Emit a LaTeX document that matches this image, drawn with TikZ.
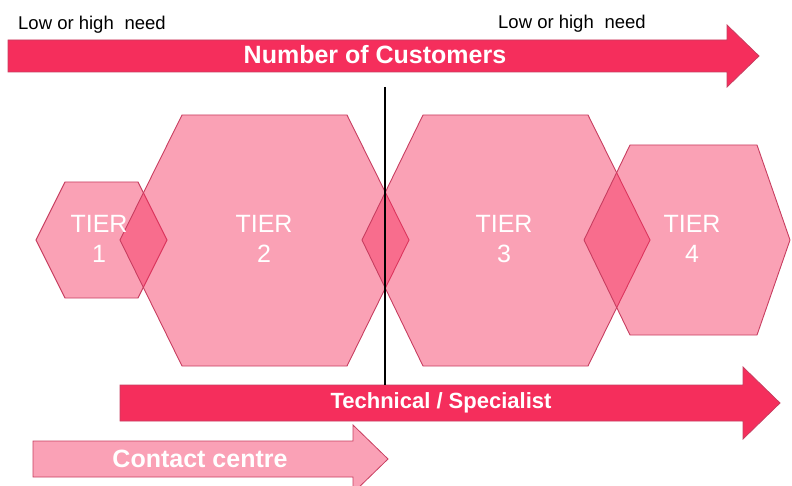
\documentclass[tikz,border=0pt]{standalone}
\usepackage{fontspec}
\setmainfont{Liberation Sans}

\definecolor{crimson}{HTML}{F52E5C}
\definecolor{edge}{HTML}{C73E60}

% hexagon: left x, right x, top-left x, top-right x, top y, bottom y
\newcommand{\tierhex}[6]{%
  \draw[hex] (#1,240) -- (#3,#5) -- (#4,#5) -- (#2,240) -- (#4,#6) -- (#3,#6) -- cycle;}

\begin{document}
\begin{tikzpicture}[x=1pt,y=-1pt,
    hex/.style={draw=edge, line width=0.9pt, fill=crimson, fill opacity=0.45},
    bar/.style={draw=edge, line width=0.8pt, fill=crimson},
    softbar/.style={draw=edge, line width=0.8pt, fill=crimson!45},
    tier/.style={text=white, align=center, font=\fontsize{25}{30}\selectfont},
    barlabel/.style={text=white, font=\bfseries\fontsize{25}{30}\selectfont},
    need/.style={anchor=base west, inner sep=0pt, font=\fontsize{18.5}{20}\selectfont}]
    \useasboundingbox (0,0) rectangle (792,486);

    \node[need] (needl) at (18,30) {Low or high\hspace{0.3em} need};
    \node[need] (needr) at (498,29) {Low or high\hspace{0.3em} need};

    % customers arrow
    \draw[bar] (8,40) -- (727,40) -- (727,25) -- (759,56) -- (727,87) -- (727,72) -- (8,72) -- cycle;
    \node[barlabel] (cust) at (375,55) {Number of Customers};

    % the four tiers
    \tierhex{36}{167}{65}{138}{182}{298}
    \tierhex{120}{409}{182}{347}{115}{366}
    \tierhex{362}{650}{423}{588}{115}{366}
    \tierhex{584}{790}{630}{757}{145}{335}
    \node[tier] (t1) at (99,239) {TIER\\1};
    \node[tier] (t2) at (264,239) {TIER\\2};
    \node[tier] (t3) at (504,239) {TIER\\3};
    \node[tier] (t4) at (692,239) {TIER\\4};

    % technical / specialist arrow
    \draw[bar] (120,385) -- (743,385) -- (743,367) -- (780,403) -- (743,439) -- (743,421) -- (120,421) -- cycle;
    \node[barlabel, font=\bfseries\fontsize{22}{26}\selectfont] (tech) at (441,403) {Technical / Specialist};

    % contact centre arrow
    \draw[softbar] (33,441) -- (353,441) -- (353,425) -- (388,459) -- (353,493) -- (353,477) -- (33,477) -- cycle;
    \node[barlabel] (contact) at (200,459) {Contact centre};

    % divider
    \coordinate (divtop) at (385,87);
    \coordinate (divbot) at (385,385);
    \draw[line width=2.5pt] (divtop) -- (divbot);
\end{tikzpicture}
\end{document}
